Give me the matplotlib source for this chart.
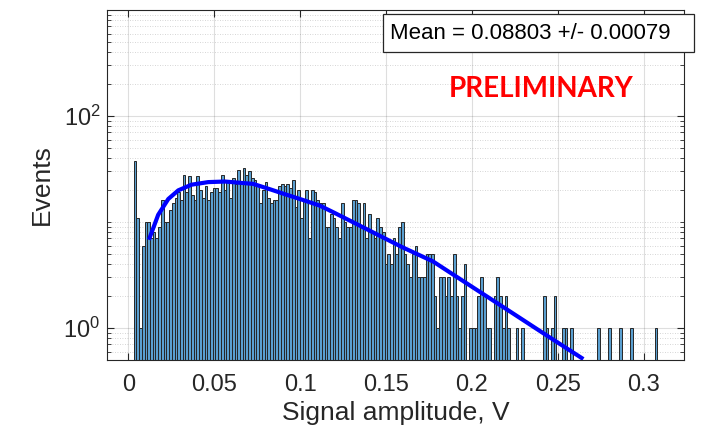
import numpy as np
import matplotlib

matplotlib.use("Agg")
import matplotlib.pyplot as plt
from matplotlib.patches import Rectangle
from matplotlib.ticker import FixedLocator, LogLocator, NullFormatter

# histogram counts, 192 equal bins between bin_lo and bin_hi
counts = [
    38, 11, 1, 6, 10, 10, 7, 8, 7, 9,
    16, 10, 10, 13, 15, 17, 19, 16, 28, 19,
    27, 18, 16, 27, 20, 17, 22, 16, 19, 21,
    21, 19, 28, 20, 25, 17, 26, 23, 31, 23,
    32, 28, 30, 26, 25, 23, 15, 20, 24, 17,
    15, 16, 16, 22, 23, 22, 23, 21, 25, 14,
    20, 11, 16, 20, 7, 20, 19, 16, 15, 15,
    9, 9, 12, 11, 9, 7, 15, 10, 9, 9,
    16, 16, 15, 9, 15, 7, 12, 8, 7, 11,
    9, 8, 4, 5, 4, 7, 5, 9, 10, 5,
    4, 3, 5, 6, 3, 3, 3, 5, 5, 5,
    2, 1, 3, 3, 2, 3, 2, 5, 2, 1,
    2, 4, 0, 1, 1, 1, 2, 3, 2, 1,
    1, 0, 2, 3, 2, 1, 2, 1, 0, 0,
    1, 0, 1, 0, 0, 0, 0, 0, 0, 0,
    2, 1, 0, 1, 2, 0, 0, 1, 1, 0,
    1, 0, 0, 0, 0, 0, 0, 0, 0, 0,
    1, 0, 0, 0, 1, 0, 0, 0, 1, 0,
    0, 0, 1, 0, 0, 0, 0, 0, 0, 0,
    0, 1,
]
bin_lo = 0.0031
bin_hi = 0.3080

# fitted curve, points
fit_x = [0.0120, 0.0174, 0.0233, 0.0291, 0.0368, 0.0465, 0.0562, 0.0727,
         0.0824, 0.0921, 0.1009, 0.1114, 0.1192, 0.1386, 0.1594, 0.1774,
         0.1967, 0.2190, 0.2432, 0.2649]
fit_y = [6.8, 11.7, 16.5, 19.9, 22.5, 23.8, 24.1, 22.9,
         20.4, 18.1, 16.3, 14.3, 12.4, 8.6, 5.8, 4.25,
         2.66, 1.55, 0.86, 0.51]

x_ticks = [0, 0.05, 0.1, 0.15, 0.2, 0.25, 0.3]
x_tick_labels = ["0", "0.05", "0.1", "0.15", "0.2", "0.25", "0.3"]
y_ticks = [1, 100]

mean_text = "Mean = 0.08803 +/- 0.00079"
stamp_text = "PRELIMINARY"

plt.rcParams["font.family"] = ["Liberation Sans", "DejaVu Sans"]
plt.rcParams["mathtext.fontset"] = "custom"
plt.rcParams["mathtext.rm"] = "Liberation Sans"
plt.rcParams["mathtext.it"] = "Liberation Sans"
plt.rcParams["mathtext.default"] = "regular"

axis_grey = (0.15, 0.15, 0.15)

fig = plt.figure(figsize=(7.08, 4.32), dpi=100)
ax = fig.add_axes([0.1516, 0.1667, 0.8145, 0.8102])

edges = np.linspace(bin_lo, bin_hi, len(counts) + 1)
counts_arr = np.asarray(counts, dtype=float)
keep = counts_arr > 0
ax.bar(edges[:-1][keep], counts_arr[keep] - 1e-3, bottom=1e-3,
       width=np.diff(edges)[keep], align="edge",
       facecolor="#5a9fd0", edgecolor="#262626", linewidth=0.7, zorder=2)

ax.plot(fit_x, fit_y, color="#0000ff", linewidth=3.0, zorder=3,
        solid_capstyle="butt", solid_joinstyle="round")

ax.set_yscale("log")
ax.set_xlim(-0.0122, 0.3235)
ax.set_ylim(0.5, 1000)

ax.xaxis.set_major_locator(FixedLocator(x_ticks))
ax.set_xticklabels(x_tick_labels)
ax.yaxis.set_major_locator(FixedLocator(y_ticks))
ax.yaxis.set_minor_locator(LogLocator(base=10, subs=np.arange(1, 10), numticks=20))
ax.yaxis.set_minor_formatter(NullFormatter())

ax.grid(True, which="major", color=axis_grey, alpha=0.15, linewidth=0.8, zorder=0)
ax.grid(True, which="minor", axis="y", color=axis_grey, alpha=0.25,
        linewidth=0.6, linestyle=(0, (1, 2)), zorder=0)
ax.set_axisbelow(True)

ax.tick_params(axis="both", which="both", direction="in", top=True, right=True,
               colors=axis_grey, labelcolor="#262626")
ax.tick_params(axis="x", which="major", labelsize=17, length=5, pad=10)
ax.tick_params(axis="y", which="major", labelsize=17, length=5, pad=5)
ax.tick_params(axis="y", which="minor", length=3)
for spine in ax.spines.values():
    spine.set_color(axis_grey)
    spine.set_linewidth(0.8)

ax.set_xlabel("Signal amplitude, V", fontsize=19, color="#262626", labelpad=4)
ax.set_ylabel("Events", fontsize=19, color="#262626", labelpad=7)

# statistics box, sticks out a bit past the right spine
ax.add_patch(Rectangle((0.478, 0.880), 0.539, 0.1086, transform=ax.transAxes,
                       facecolor="white", edgecolor="#262626", linewidth=0.9,
                       clip_on=False, zorder=5))
ax.text(0.490, 0.934, mean_text, transform=ax.transAxes, fontsize=16,
        ha="left", va="center", color="black", zorder=6)

ax.text(0.752, 0.773, stamp_text, transform=ax.transAxes, fontsize=20,
        fontweight="bold", family=["Lato", "DejaVu Sans"], color="#ff0000",
        ha="center", va="center", zorder=6)

fig.savefig("out.png", dpi=100)
